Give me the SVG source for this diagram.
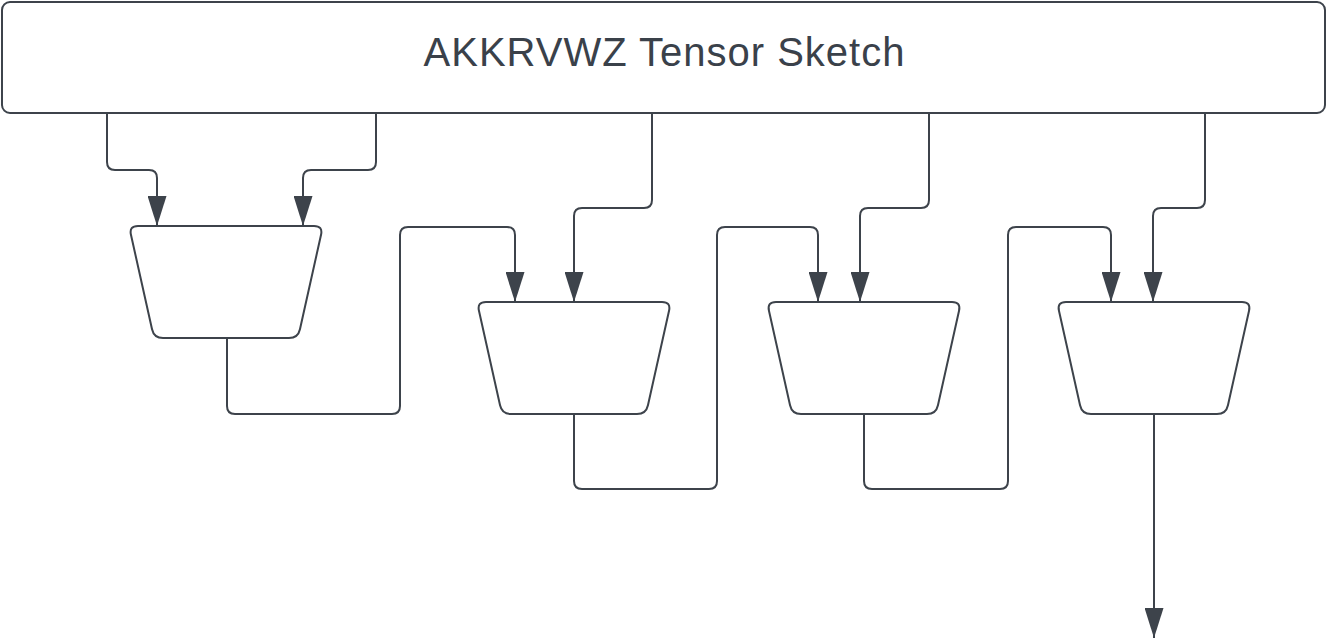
<svg xmlns="http://www.w3.org/2000/svg" width="1328" height="638" viewBox="0 0 1328 638">
<style>
.shape{fill:#ffffff;stroke:#3d434b;stroke-width:2}
.conn{fill:none;stroke:#3d434b;stroke-width:2;marker-end:url(#arr)}
.title{font-family:"Liberation Sans",Arial,sans-serif;font-size:40px;letter-spacing:1px;fill:#3a414a;text-anchor:middle}
</style>
<defs>
<marker id="arr" markerUnits="userSpaceOnUse" markerWidth="30" markerHeight="19" viewBox="0 0 30 19" refX="30" refY="9.5" orient="auto">
<path d="M0,0 L30,9.5 L0,19 Z" fill="#3d434b"/>
</marker>
<path id="trap" d="M9,0 H185 Q194,0 192.04,8.78 L170.96,103.22 Q169,112 160,112 H34 Q25,112 23.04,103.22 L1.96,8.78 Q0,0 9,0 Z"/>
</defs>
<g id="sketch">
<rect class="shape" x="2" y="2" width="1323" height="111" rx="8"/>
<text class="title" x="664.5" y="66">AKKRVWZ Tensor Sketch</text>
</g>
<g id="m1"><use href="#trap" class="shape" transform="translate(129,226)"/></g>
<g id="m2"><use href="#trap" class="shape" transform="translate(477,302)"/></g>
<g id="m3"><use href="#trap" class="shape" transform="translate(767,302)"/></g>
<g id="m4"><use href="#trap" class="shape" transform="translate(1057,302)"/></g>
<g id="connectors">
<path class="conn" d="M107,113 V162 Q107,170 115,170 H149 Q157,170 157,178 V226"/>
<path class="conn" d="M376,113 V162 Q376,170 368,170 H311 Q303,170 303,178 V226"/>
<path class="conn" d="M227,338 V406 Q227,414 235,414 H392 Q400,414 400,406 V235 Q400,227 408,227 H507 Q515,227 515,235 V302"/>
<path class="conn" d="M652,113 V200 Q652,208 644,208 H582 Q574,208 574,216 V302"/>
<path class="conn" d="M574,414 V481 Q574,489 582,489 H709 Q717,489 717,481 V235 Q717,227 725,227 H810 Q818,227 818,235 V302"/>
<path class="conn" d="M929,113 V200 Q929,208 921,208 H868 Q860,208 860,216 V302"/>
<path class="conn" d="M864,414 V481 Q864,489 872,489 H1000 Q1008,489 1008,481 V235 Q1008,227 1016,227 H1103 Q1111,227 1111,235 V302"/>
<path class="conn" d="M1205,113 V200 Q1205,208 1197,208 H1161 Q1153,208 1153,216 V302"/>
<path class="conn" d="M1154,414 V638"/>
</g>
</svg>
